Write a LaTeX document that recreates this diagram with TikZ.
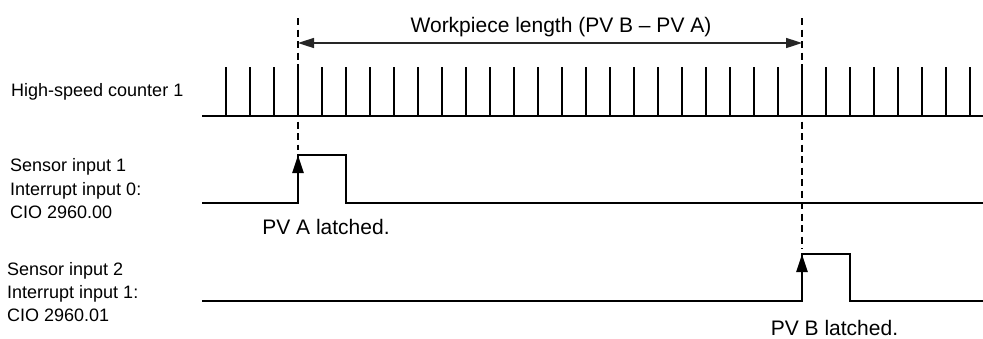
\documentclass[tikz,border=0pt]{standalone}
\usepackage{fontspec}
\setmainfont{Liberation Sans}
\usepackage{tikz}
\usetikzlibrary{arrows.meta}
\tikzset{
	>={Triangle[length=16pt,width=10pt]},
	signal/.style={black, line width=2.5pt},
	tick/.style={black, line width=2.5pt},
	latchline/.style={black, line width=2.8pt, dash pattern=on 7pt off 4.5pt},
	latcharrow/.style={black, line width=2.5pt, -{Triangle[length=18pt,width=11pt]}},
	dimline/.style={black!85, line width=1.6pt, {Triangle[length=16pt,width=10pt]}-{Triangle[length=16pt,width=10pt]}},
	sidelabel/.style={inner sep=0pt, anchor=base west, font=\fontsize{18}{22}\selectfont},
	notelabel/.style={inner sep=0pt, anchor=base, font=\fontsize{21}{25}\selectfont},
}

\begin{document}
\begin{tikzpicture}[x=1pt, y=-1pt]
		\useasboundingbox (0,0) rectangle (983,338);
		
		% latch instants
		\coordinate (topA) at (298,18);
		\coordinate (topB) at (802,18);
		\coordinate (dimA) at (298,43);
		\coordinate (dimB) at (802,43);
		\coordinate (lowA) at (298,203);
		\coordinate (highA) at (298,155);
		\coordinate (lowB) at (802,301);
		\coordinate (highB) at (802,254);
		
		% high-speed counter pulses
		\node[sidelabel] (hsc) at (11,96) {High-speed counter 1};
		\draw[signal] (202,116)--(983,116);
		\foreach \i in {0,...,31}
			\draw[tick] (226+24*\i,116)--++(0,-49);
		
		% sensor input 1
		\node[sidelabel] (s1a) at (10,171.7) {Sensor input 1};
		\node[sidelabel] (s1b) at (10,195) {Interrupt input 0:};
		\node[sidelabel] (s1c) at (10,218.3) {CIO 2960.00};
		\draw[signal] (202,203)--(lowA) |- (346,155) |- (983,203);
		\draw[latcharrow] (lowA)--(highA);
		
		% sensor input 2
		\node[sidelabel] (s2a) at (7,275) {Sensor input 2};
		\node[sidelabel] (s2b) at (7,298.3) {Interrupt input 1:};
		\node[sidelabel] (s2c) at (7,321.7) {CIO 2960.01};
		\draw[signal] (202,301)--(lowB) |- (850,254) |- (983,301);
		\draw[latcharrow] (lowB)--(highB);
		
		% dashed latch markers
		\draw[latchline] (topA)--(298,150);
		\draw[latchline] (topB)--(802,249);
		
		% workpiece length
		\draw[dimline] (dimA)--(dimB);
		\node[notelabel] (wlen) at (561,32.3) {Workpiece length (PV B -- PV A)};
		
		% latch notes
		\node[notelabel] (pva) at (326,234) {PV A latched.};
		\node[notelabel] (pvb) at (834.5,335) {PV B latched.};
	\end{tikzpicture}
\end{document}
